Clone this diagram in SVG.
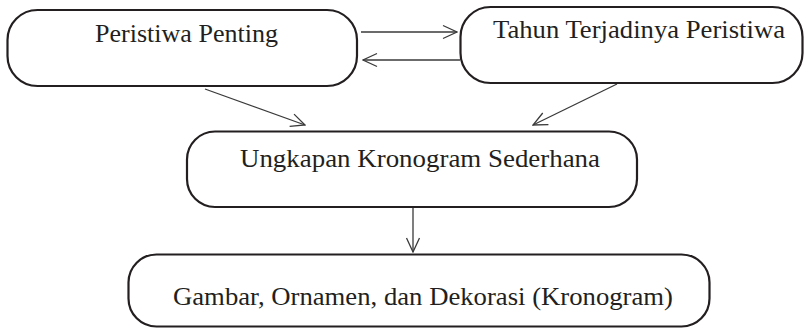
<svg xmlns="http://www.w3.org/2000/svg" width="805" height="328" viewBox="0 0 805 328">
<style>
.box{fill:#fff;stroke:#231f20;stroke-width:2.2}
.lbl{font-family:"Liberation Serif","Times New Roman",serif;font-size:26px;fill:#231f20;text-anchor:start}
.con{stroke:#3a3a3a;stroke-width:1.3;fill:none}
.ah{stroke:#3a3a3a;stroke-width:1.3;fill:none}
</style>
<defs>
<marker id="arr" viewBox="0 0 16 16" refX="15" refY="8" markerWidth="16" markerHeight="16" markerUnits="userSpaceOnUse" orient="auto">
<path class="ah" d="M1,1.5 L15,8 L1,14.5"/>
</marker>
</defs>
<rect width="805" height="328" fill="#fff"/>
<g id="connectors">
<line class="con" x1="361" y1="32" x2="457" y2="32" marker-end="url(#arr)"/>
<line class="con" x1="460" y1="60" x2="363" y2="60" marker-end="url(#arr)"/>
<line class="con" x1="205" y1="89" x2="305" y2="125" marker-end="url(#arr)"/>
<line class="con" x1="617" y1="84" x2="533" y2="125" marker-end="url(#arr)"/>
<line class="con" x1="413" y1="208" x2="413" y2="252" marker-end="url(#arr)"/>
</g>
<g id="node-peristiwa">
<rect class="box" x="7.5" y="10" width="349.5" height="76" rx="30" ry="30"/>
<text class="lbl" x="95" y="42" textLength="183" lengthAdjust="spacingAndGlyphs">Peristiwa Penting</text>
</g>
<g id="node-tahun">
<rect class="box" x="460.5" y="7" width="342" height="76" rx="30" ry="30"/>
<text class="lbl" x="493" y="38" textLength="292" lengthAdjust="spacingAndGlyphs">Tahun Terjadinya Peristiwa</text>
</g>
<g id="node-ungkapan">
<rect class="box" x="187" y="131.5" width="450" height="75.5" rx="28" ry="28"/>
<text class="lbl" x="240" y="167" textLength="360" lengthAdjust="spacingAndGlyphs">Ungkapan Kronogram Sederhana</text>
</g>
<g id="node-gambar">
<rect class="box" x="128.5" y="254.5" width="581" height="72" rx="28" ry="28"/>
<text class="lbl" x="173" y="305" textLength="500" lengthAdjust="spacingAndGlyphs">Gambar, Ornamen, dan Dekorasi (Kronogram)</text>
</g>
</svg>
